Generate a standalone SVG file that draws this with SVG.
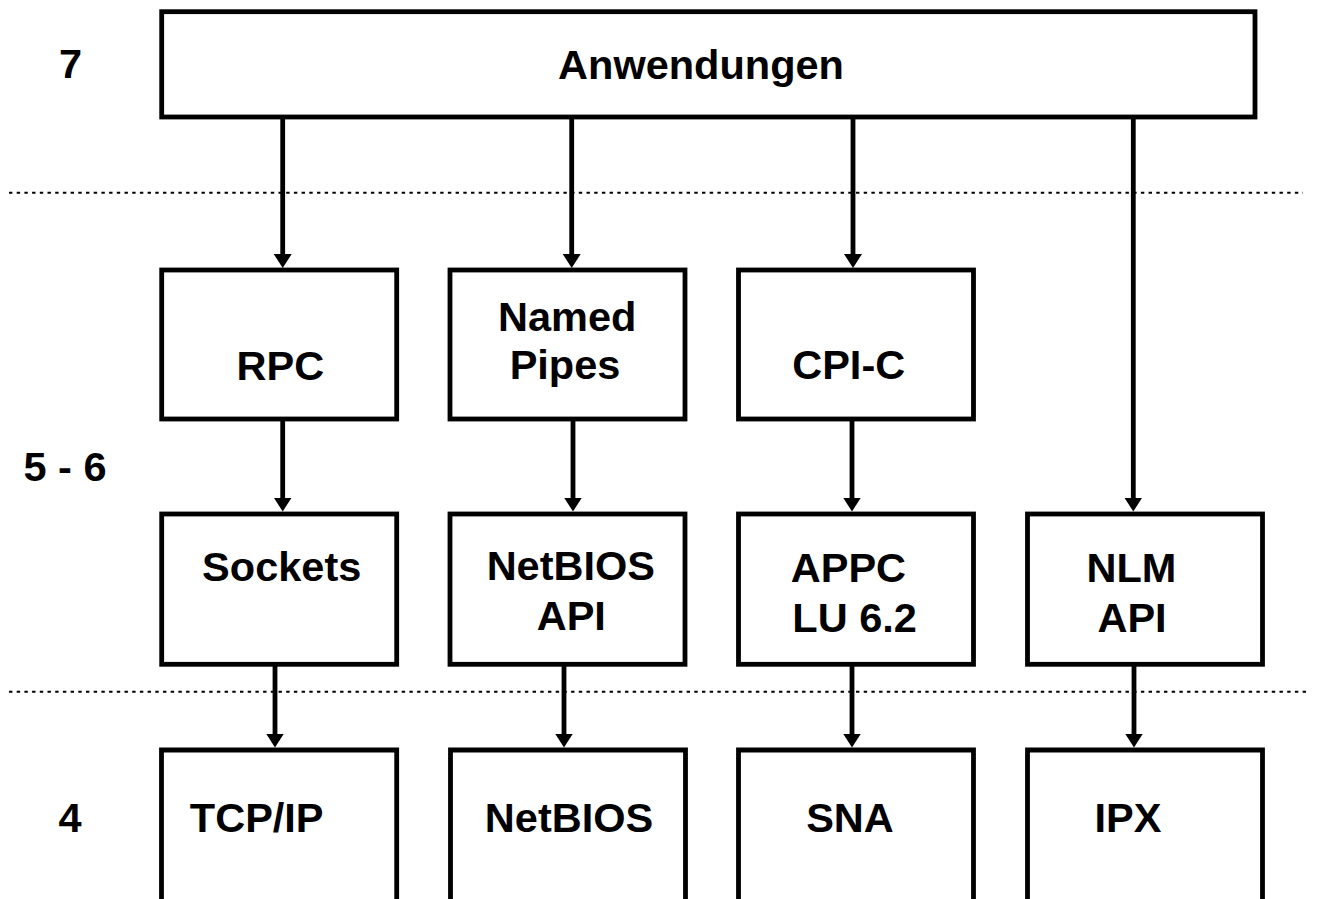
<svg xmlns="http://www.w3.org/2000/svg" width="1317" height="899" viewBox="0 0 1317 899">
<style>
.box{fill:#fff;stroke:#000;stroke-width:4.8}
.open{fill:none;stroke:#000;stroke-width:4.8}
.t{font-family:"Liberation Sans",Arial,sans-serif;font-weight:bold;font-size:41.5px;fill:#000;text-anchor:middle}
.lbl{font-family:"Liberation Sans",Arial,sans-serif;font-weight:bold;font-size:41.5px;fill:#000}
.con{fill:none;stroke:#000;stroke-width:4.8;marker-end:url(#ah)}
.sep{stroke:#000;stroke-width:2;stroke-dasharray:3.4 4.3}
</style>
<defs>
<marker id="ah" markerUnits="userSpaceOnUse" markerWidth="16" markerHeight="19" refX="4" refY="9" orient="auto">
<path d="M0,0 L14,9 L0,18 Z" fill="#000"/>
</marker>
</defs>
<rect width="1317" height="899" fill="#fff"/>
<g id="separators">
<line class="sep" x1="9" y1="192.7" x2="1303" y2="192.7"/>
<line class="sep" x1="9" y1="691.7" x2="1310" y2="691.7"/>
</g>
<g id="layer-labels">
<text class="lbl" x="59" y="78">7</text>
<text class="lbl" x="23.5" y="480.5">5 - 6</text>
<text class="lbl" x="58.5" y="832">4</text>
</g>
<g id="connectors">
<path class="con" d="M282.7,119 V258"/>
<path class="con" d="M571.7,119 V258"/>
<path class="con" d="M853,119 V258"/>
<path class="con" d="M1133.3,119 V501.5"/>
<path class="con" d="M282.7,421 V501.5"/>
<path class="con" d="M573,421 V501.5"/>
<path class="con" d="M852,421 V501.5"/>
<path class="con" d="M275,666 V737.5"/>
<path class="con" d="M564,666 V737.5"/>
<path class="con" d="M852,666 V737.5"/>
<path class="con" d="M1134,666 V737.5"/>
</g>
<g id="anwendungen">
<rect class="box" x="161.7" y="11.7" width="1093.3" height="105.3"/>
<text class="t" x="701" y="79">Anwendungen</text>
</g>
<g id="rpc">
<rect class="box" x="161.7" y="270" width="235" height="149"/>
<text class="t" x="280.3" y="379.5">RPC</text>
</g>
<g id="named-pipes">
<rect class="box" x="450" y="270" width="235" height="149"/>
<text class="t" x="567.2" y="330.7">Named</text>
<text class="t" x="565" y="378.5">Pipes</text>
</g>
<g id="cpi-c">
<rect class="box" x="738.5" y="270" width="235" height="149"/>
<text class="t" x="848.7" y="378.5">CPI-C</text>
</g>
<g id="sockets">
<rect class="box" x="161.7" y="514" width="235" height="150.3"/>
<text class="t" x="281.7" y="580.5">Sockets</text>
</g>
<g id="netbios-api">
<rect class="box" x="450" y="514" width="235" height="150.3"/>
<text class="t" x="570.8" y="579.5">NetBIOS</text>
<text class="t" x="571.3" y="630">API</text>
</g>
<g id="appc">
<rect class="box" x="738.5" y="514" width="235" height="150.3"/>
<text class="t" x="848.4" y="581.5">APPC</text>
<text class="t" x="854.6" y="631.5">LU 6.2</text>
</g>
<g id="nlm-api">
<rect class="box" x="1027.5" y="514" width="235" height="150.3"/>
<text class="t" x="1131.4" y="581.5">NLM</text>
<text class="t" x="1132" y="631.5">API</text>
</g>
<g id="tcpip">
<path class="open" d="M161.5,905 V750 H396.7 V905"/>
<text class="t" x="256.7" y="831.7">TCP/IP</text>
</g>
<g id="netbios">
<path class="open" d="M450.5,905 V750 H685.5 V905"/>
<text class="t" x="569" y="831.7">NetBIOS</text>
</g>
<g id="sna">
<path class="open" d="M738.5,905 V750 H973.5 V905"/>
<text class="t" x="850" y="831.7">SNA</text>
</g>
<g id="ipx">
<path class="open" d="M1027.5,905 V750 H1262.5 V905"/>
<text class="t" x="1128" y="831.7">IPX</text>
</g>
</svg>
